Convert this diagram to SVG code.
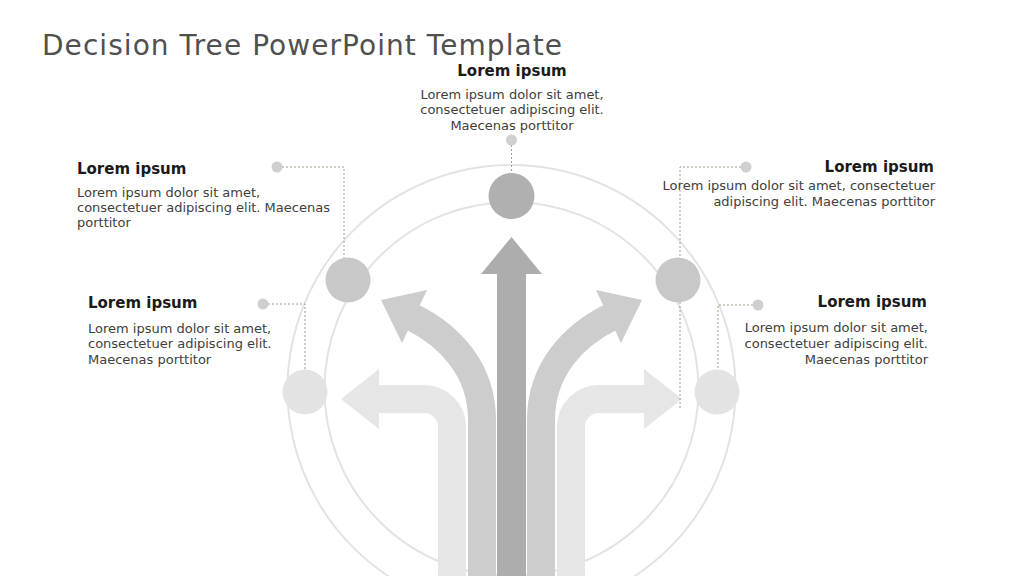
<svg xmlns="http://www.w3.org/2000/svg" width="1024" height="576" viewBox="0 0 1024 576">
<style>
.title{font-family:"DejaVu Sans",Verdana,sans-serif;font-size:28px;fill:#505050}
.h{font-family:"DejaVu Sans",Verdana,sans-serif;font-size:15px;font-weight:bold;fill:#1a1a1a}
.b{font-family:"DejaVu Sans",Verdana,sans-serif;font-size:13px;fill:#404040}
.ring{fill:none;stroke:#e3e3e3;stroke-width:2}
.conn{fill:none;stroke:#a89a8c;stroke-width:1;stroke-dasharray:2 2}
.dot{fill:#cfcfcf}
</style>
<rect width="1024" height="576" fill="#ffffff"/>
<text class="title" x="42" y="55" textLength="520">Decision Tree PowerPoint Template</text>
<g id="rings">
<circle class="ring" cx="511.5" cy="389" r="224"/>
<circle class="ring" cx="511.5" cy="389" r="187"/>
</g>
<g id="arrows">
<path d="M452,576 L452,427 A28,28 0 0 0 424,399 L378,399" fill="none" stroke="#e6e6e6" stroke-width="28"/>
<polygon points="379,369 341,399 379,429" fill="#e6e6e6"/>
<path d="M571,576 L571,427 A28,28 0 0 1 599,399 L645,399" fill="none" stroke="#e6e6e6" stroke-width="28"/>
<polygon points="644,369 682,399 644,429" fill="#e6e6e6"/>
<path d="M482,576 L482,420 C482,370 450,336 413,317.5" fill="none" stroke="#cdcdcd" stroke-width="28"/>
<polygon points="381,300 427,290 402,343" fill="#cdcdcd"/>
<path d="M541,576 L541,420 C541,370 573,336 610,317.5" fill="none" stroke="#cdcdcd" stroke-width="28"/>
<polygon points="642,300 596,290 621,343" fill="#cdcdcd"/>
<polygon points="497,576 497,274 481,274 511.5,237 542,274 526,274 526,576" fill="#adadad"/>
</g>
<g id="connectors">
<path class="conn" d="M511.5,145 L511.5,174"/>
<path class="conn" d="M282,167 L344,167 L344,270"/>
<path class="conn" d="M268,304 L305,304 L305,370"/>
<path class="conn" d="M741,167 L680,167 L680,408"/>
<path class="conn" d="M753,305 L718,305 L718,370"/>
<circle class="dot" cx="511.5" cy="140" r="5.5"/>
<circle class="dot" cx="277" cy="167" r="5.5"/>
<circle class="dot" cx="263" cy="304" r="5.5"/>
<circle class="dot" cx="746" cy="167" r="5.5"/>
<circle class="dot" cx="758" cy="305" r="5.5"/>
</g>
<g id="node-top">
<circle cx="511.5" cy="196" r="23" fill="#b0b0b0"/>
<text class="h" x="512" y="76" text-anchor="middle">Lorem ipsum</text>
<text class="b" x="512" y="99" text-anchor="middle">Lorem ipsum dolor sit amet,</text>
<text class="b" x="512" y="114" text-anchor="middle">consectetuer adipiscing elit.</text>
<text class="b" x="512" y="130" text-anchor="middle">Maecenas porttitor</text>
</g>
<g id="node-upper-left">
<circle cx="348" cy="280" r="22.5" fill="#c8c8c8"/>
<text class="h" x="77" y="174">Lorem ipsum</text>
<text class="b" x="77" y="197">Lorem ipsum dolor sit amet,</text>
<text class="b" x="77" y="212">consectetuer adipiscing elit. Maecenas</text>
<text class="b" x="77" y="227">porttitor</text>
</g>
<g id="node-lower-left">
<circle cx="305" cy="392" r="22.5" fill="#e3e3e3"/>
<text class="h" x="88" y="308">Lorem ipsum</text>
<text class="b" x="88" y="333">Lorem ipsum dolor sit amet,</text>
<text class="b" x="88" y="348">consectetuer adipiscing elit.</text>
<text class="b" x="88" y="364">Maecenas porttitor</text>
</g>
<g id="node-upper-right">
<circle cx="678" cy="280" r="22.5" fill="#c8c8c8"/>
<text class="h" x="934" y="172" text-anchor="end">Lorem ipsum</text>
<text class="b" x="935" y="190" text-anchor="end">Lorem ipsum dolor sit amet, consectetuer</text>
<text class="b" x="935" y="206" text-anchor="end">adipiscing elit. Maecenas porttitor</text>
</g>
<g id="node-lower-right">
<circle cx="717" cy="392" r="22.5" fill="#e3e3e3"/>
<text class="h" x="927" y="307" text-anchor="end">Lorem ipsum</text>
<text class="b" x="928" y="332" text-anchor="end">Lorem ipsum dolor sit amet,</text>
<text class="b" x="928" y="348" text-anchor="end">consectetuer adipiscing elit.</text>
<text class="b" x="928" y="364" text-anchor="end">Maecenas porttitor</text>
</g>
</svg>
